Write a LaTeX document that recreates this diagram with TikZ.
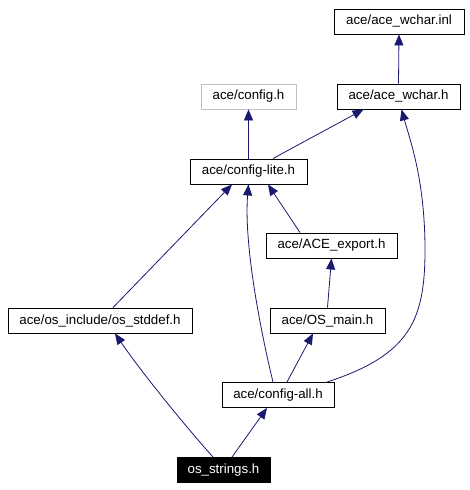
\documentclass[tikz,border=0pt]{standalone}
\usepackage{fontspec}
\setmainfont{Liberation Sans}
\usetikzlibrary{arrows.meta}
\definecolor{depblue}{HTML}{191970}
\definecolor{missgray}{HTML}{BFBFBF}

\begin{document}
\begin{tikzpicture}[%
			x=1pt, y=-1pt,
			file/.style={draw=black, line width=0.9pt, fill=white, inner xsep=0pt,
				minimum height=25pt, font=\fontsize{13.3}{16}\selectfont},
			missing/.style={file, draw=missgray},
			current/.style={file, fill=black, text=white},
			dep/.style={draw=depblue, line width=0.8pt,
				-{Triangle[length=11pt, width=9pt]}}
			]
			\useasboundingbox (0,0) rectangle (470,490);
			% files
			\node[file, minimum width=130pt] (inl) at (399,21.5) {ace/ace\_wchar.inl};
			\node[missing, minimum width=95pt] (cfg) at (248.5,96.5) {ace/config.h};
			\node[file, minimum width=123pt] (wchar) at (398.5,96.5) {ace/ace\_wchar.h};
			\node[file, minimum width=117pt] (lite) at (248.5,171.5) {ace/config-lite.h};
			\node[file, minimum width=131pt] (export) at (331.5,245.5) {ace/ACE\_export.h};
			\node[file, minimum width=184pt] (stddef) at (100,320.5) {ace/os\_include/os\_stddef.h};
			\node[file, minimum width=115pt] (osmain) at (327.5,320.5) {ace/OS\_main.h};
			\node[file, minimum width=112pt] (all) at (278,395) {ace/config-all.h};
			\node[current, minimum width=93pt] (strings) at (223.5,470) {os\_strings.h};
			% includes
			\draw[dep] (wchar.north) -- (inl.south);
			\draw[dep] (lite.north) -- (cfg.south);
			\draw[dep] ([xshift=24.5]lite.north) .. controls (305,141) and (335,125) .. ([xshift=-35]wchar.south);
			\draw[dep] ([xshift=-31.5]export.north) -- ([xshift=19.5]lite.south);
			\draw[dep] ([xshift=13]stddef.north) -- ([xshift=-16.5]lite.south);
			\draw[dep] (osmain.north) -- (export.south);
			\draw[dep] ([xshift=-5]all.north) .. controls (258,320) and (244,240) .. (lite.south);
			\draw[dep] ([xshift=9]all.north) -- ([xshift=-14.5]osmain.south);
			\draw[dep] ([xshift=49]all.north) .. controls (410,355) and (425,320) .. (425,250)
				.. controls (425,180) and (410,140) .. ([xshift=3]wchar.south);
			\draw[dep] ([xshift=-10.5]strings.north) .. controls (180,420) and (140,370) .. ([xshift=15]stddef.south);
			\draw[dep] ([xshift=8.5]strings.north) -- ([xshift=-11]all.south);
		\end{tikzpicture}
\end{document}
